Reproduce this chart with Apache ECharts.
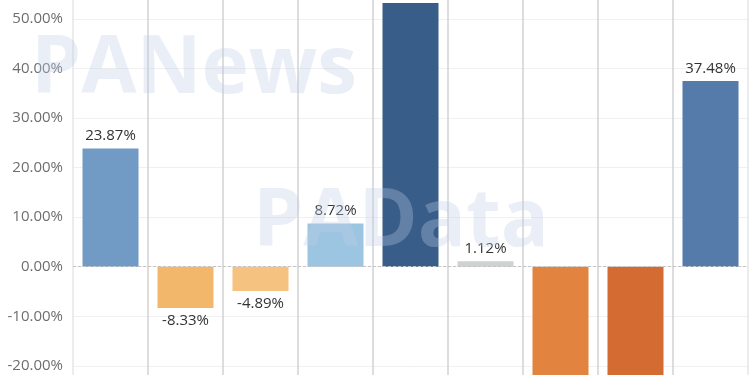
<!DOCTYPE html>
<html><head><meta charset="utf-8">
<script src="https://cdn.jsdelivr.net/npm/echarts@6/dist/echarts.min.js"></script>
<style>html,body{margin:0;padding:0;background:#fff;overflow:hidden;width:750px;height:375px;position:relative}
#c{position:absolute;left:0;top:-100px;width:750px;height:575px}</style>
</head><body><div id="c"></div>
<script>
var categories = ['A','B','C','D','E','F','G','H','I'];
var values = [23.87, -8.33, -4.89, 8.72, 53.2, 1.12, -26.5, -31.0, 37.48];
var colors = ['#719bc4','#f3b76c','#f5c27f','#9bc5e1','#375d88','#cfd3cf','#e2843f','#d36b33','#547ba9'];
var yMin = -40, yMax = 60, yStep = 10;

var chart = echarts.init(document.getElementById('c'));
var fontFam = '"Open Sans", Lato, sans-serif';
var splitColors = ['#e6e6e6','#d2d2d2','#d2d2d2','#d2d2d2','#d2d2d2','#d2d2d2','#d2d2d2','#d2d2d2','#d2d2d2','#e6e6e6'];
chart.setOption({
  animation: false,
  grid: { left: 73, right: 2, top: 69.4, bottom: 10.1, containLabel: false },
  xAxis: {
    type: 'category', data: categories, boundaryGap: true,
    axisLine: { show: false }, axisTick: { show: false }, axisLabel: { show: false },
    splitLine: { show: true, lineStyle: { color: splitColors, width: 1.5 } }
  },
  yAxis: {
    type: 'value', min: yMin, max: yMax, interval: yStep,
    axisLine: { show: false }, axisTick: { show: false },
    axisLabel: { color: '#6e6e6e', fontSize: 15, fontFamily: fontFam, margin: 10,
      formatter: function (v) { return v.toFixed(2) + '%'; } },
    splitLine: { show: true, lineStyle: { color: '#f0f0f0', width: 1 } }
  },
  series: [{
    type: 'bar', barWidth: 56,
    data: values.map(function (v, i) {
      return { value: v, itemStyle: { color: colors[i] },
        label: { position: v < 0 ? 'bottom' : 'top' } };
    }),
    label: { show: true, color: '#333', fontSize: 15, fontFamily: fontFam, distance: 5,
      formatter: function (p) { return p.value.toFixed(2) + '%'; } },
    markLine: {
      silent: true, symbol: 'none', label: { show: false },
      lineStyle: { color: '#c4c4c4', type: [3, 2], width: 1 },
      data: [{ yAxis: 0 }]
    }
  }],
  graphic: [
    { type: 'text', left: 31, top: 130, z: 100, silent: true,
      style: { text: 'PANews', font: 'bold 80px "Open Sans", sans-serif', fill: 'rgba(190,202,232,0.33)' } },
    { type: 'text', left: 253, top: 283, z: 100, silent: true,
      style: { text: 'PAData', font: 'bold 80px "Open Sans", sans-serif', fill: 'rgba(190,202,232,0.33)' } }
  ]
});
</script></body></html>
